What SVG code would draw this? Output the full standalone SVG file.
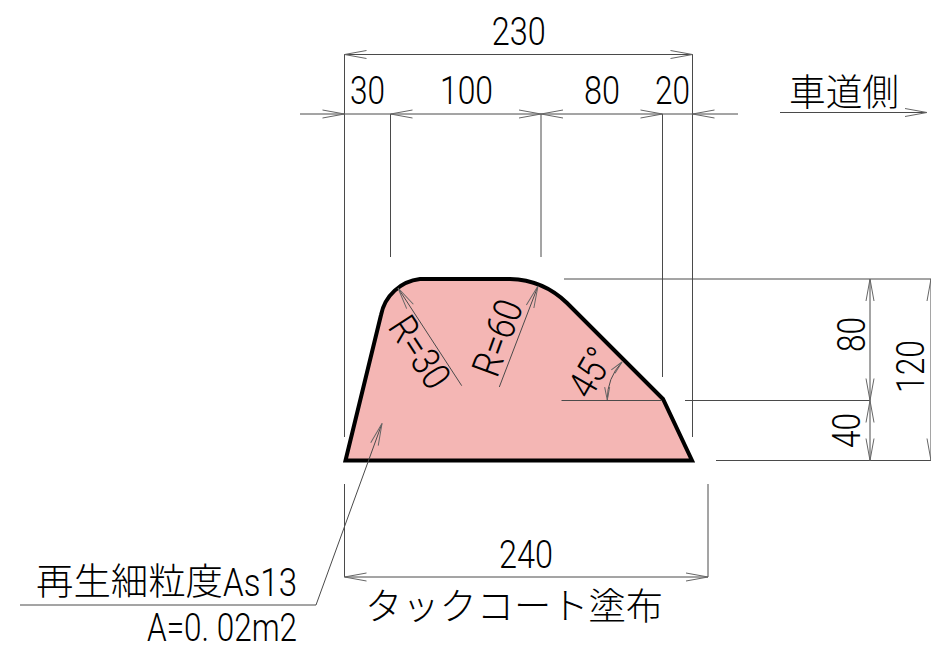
<svg xmlns="http://www.w3.org/2000/svg" width="931" height="650" viewBox="0 0 931 650">
<style>
.d{fill:none;stroke:#4a4a4a;stroke-width:1}
.a{marker-start:url(#h);marker-end:url(#h)}
.e{marker-end:url(#h)}
.s{marker-start:url(#h)}
.b{marker-start:url(#k);marker-end:url(#k)}
text{fill:#000;font-family:Roboto,"Noto Sans CJK JP",sans-serif;font-size:39.5px;font-weight:300}
.j{font-family:"Noto Sans CJK JP",sans-serif;font-size:37px}
</style>
<defs>
<marker id="h" markerUnits="userSpaceOnUse" markerWidth="26" markerHeight="12" refX="1" refY="6" orient="auto-start-reverse" viewBox="0 0 26 12" overflow="visible">
<path d="M-22,2 L0,6 L-22,10" transform="translate(1,0)" fill="none" stroke="#666" stroke-width="1"/>
</marker>
<marker id="k" markerUnits="userSpaceOnUse" markerWidth="16" markerHeight="8" refX="1" refY="4" orient="auto-start-reverse" viewBox="0 0 16 8" overflow="visible">
<path d="M-13,1.5 L0,4 L-13,6.5" transform="translate(1,0)" fill="none" stroke="#666" stroke-width="1"/>
</marker>
</defs>
<rect width="931" height="650" fill="#fff"/>
<g id="section">
<path d="M345.5,460.5 L381,315 A45,45 0 0 1 420,279 L510,279 A85,85 0 0 1 567,303 L663,399 L692,460.5 Z" fill="#f4b6b4" stroke="#000" stroke-width="4" stroke-linejoin="miter"/>
</g>
<g id="connectors">
<path class="d" d="M344.5,54V437M692.5,54V437M390.5,114V257M541,114V257M662.5,114V377M344.5,484V577M708,484V577M564,279H931M685,400.5H870M716,460.5H931M561.5,400.5H662M344.5,114H390.5M662.5,114H692.5"/>
<line class="d a" x1="344.5" y1="54.5" x2="692.5" y2="54.5"/>
<line class="d e" x1="300" y1="114" x2="344.5" y2="114"/>
<line class="d a" x1="390.5" y1="114" x2="541" y2="114"/>
<line class="d a" x1="541" y1="114" x2="662.5" y2="114"/>
<line class="d s" x1="692.5" y1="114" x2="738" y2="114"/>
<line class="d e" x1="780" y1="112.5" x2="927" y2="112.5"/>
<line class="d a" x1="344.5" y1="577" x2="708" y2="577"/>
<line class="d a" x1="870" y1="279" x2="870" y2="400.5"/>
<line class="d a" x1="870" y1="400.5" x2="870" y2="460.5"/>
<line class="d a" x1="931" y1="279" x2="931" y2="460.5"/>
<line class="d s" x1="398" y1="288" x2="461.7" y2="385.7"/>
<line class="d s" x1="538" y1="286" x2="499.3" y2="387"/>
<path class="d b" d="M622,362 A55,55 0 0 0 607.3,400"/>
<path class="d e" d="M20,605 H316 L382,423.5"/>
</g>
<g id="labels">
<text x="491.7" y="45" textLength="54" lengthAdjust="spacingAndGlyphs">230</text>
<text x="350" y="104" textLength="35" lengthAdjust="spacingAndGlyphs">30</text>
<text x="440" y="104" textLength="53" lengthAdjust="spacingAndGlyphs">100</text>
<text x="584" y="104" textLength="36" lengthAdjust="spacingAndGlyphs">80</text>
<text x="655" y="104" textLength="35" lengthAdjust="spacingAndGlyphs">20</text>
<text class="j" x="789" y="106" textLength="110" lengthAdjust="spacingAndGlyphs">車道側</text>
<text transform="translate(865,352) rotate(-90)" textLength="35" lengthAdjust="spacingAndGlyphs">80</text>
<text transform="translate(924,393) rotate(-90)" textLength="53" lengthAdjust="spacingAndGlyphs">120</text>
<text transform="translate(860,448) rotate(-90)" textLength="35" lengthAdjust="spacingAndGlyphs">40</text>
<text transform="translate(387,327) rotate(57)" textLength="78" lengthAdjust="spacingAndGlyphs">R=30</text>
<text transform="translate(497,379) rotate(-70)" textLength="78" lengthAdjust="spacingAndGlyphs">R=60</text>
<text transform="translate(590,401) rotate(-60)" textLength="50" lengthAdjust="spacingAndGlyphs">45°</text>
<text x="499" y="568" textLength="54" lengthAdjust="spacingAndGlyphs">240</text>
<text class="j" x="36" y="595" textLength="187" lengthAdjust="spacingAndGlyphs">再生細粒度</text>
<text x="223" y="596" textLength="74" lengthAdjust="spacingAndGlyphs">As13</text>
<text x="147" y="641" textLength="150" lengthAdjust="spacingAndGlyphs" xml:space="preserve">A=0. 02m2</text>
<text class="j" x="365" y="620" textLength="298" lengthAdjust="spacingAndGlyphs">タックコート塗布</text>
</g>
</svg>
